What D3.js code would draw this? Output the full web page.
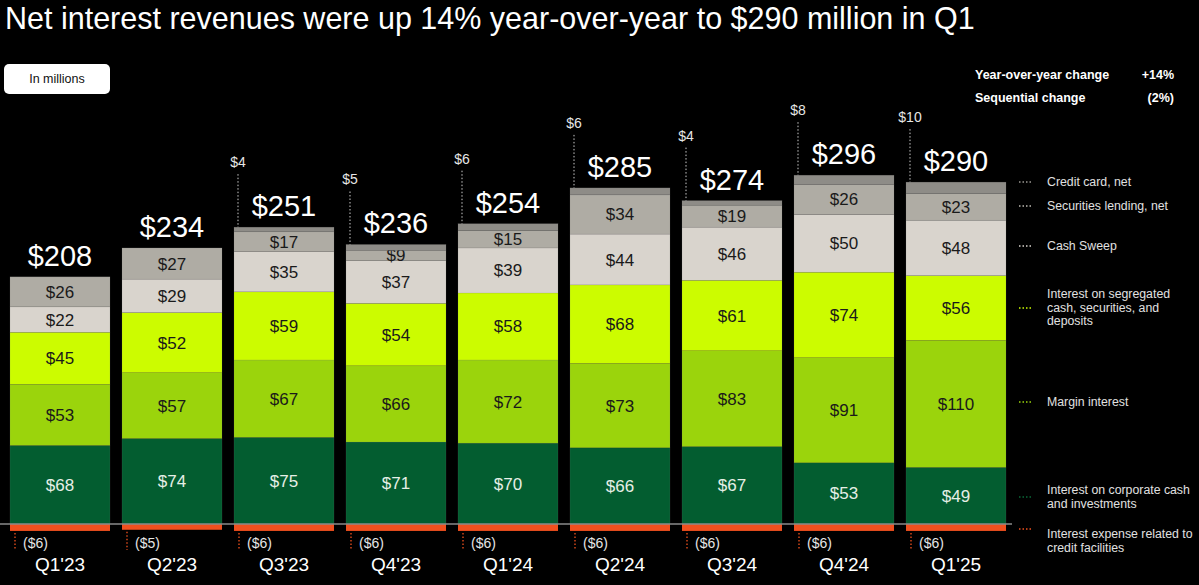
<!DOCTYPE html>
<html><head><meta charset="utf-8">
<script src="https://cdn.jsdelivr.net/npm/d3@7"></script>
<style>
html,body{margin:0;padding:0;background:#000;}
svg{display:block;font-family:"Liberation Sans",Arial,Helvetica,sans-serif;}
</style></head>
<body>
<svg id="c" width="1199" height="585"></svg>
<script>
const quarters = ["Q1'23","Q2'23","Q3'23","Q4'23","Q1'24","Q2'24","Q3'24","Q4'24","Q1'25"];
const corporateCash = [68,74,75,71,70,66,67,53,49];
const marginInterest = [53,57,67,66,72,73,83,91,110];
const segregated = [45,52,59,54,58,68,61,74,56];
const cashSweep = [22,29,35,37,39,44,46,50,48];
const securitiesLending = [26,27,17,9,15,34,19,26,23];
const creditCard = [0,0,4,5,6,6,4,8,10];
const interestExpense = [-6,-5,-6,-6,-6,-6,-6,-6,-6];
const totals = [208,234,251,236,254,285,274,296,290];
const summaryLabels = ["Year-over-year change","Sequential change"];
const summaryValues = ["+14%","(2%)"];
const title = "Net interest revenues were up 14% year-over-year to $290 million in Q1";

const stackSeries = [
  {key:"corp", vals:corporateCash, color:"#035d30", text:"#e6efe6", label:true},
  {key:"margin", vals:marginInterest, color:"#9bd40c", text:"#1a1a1a", label:true},
  {key:"seg", vals:segregated, color:"#ccfc00", text:"#1a1a1a", label:true},
  {key:"sweep", vals:cashSweep, color:"#d9d4cd", text:"#1a1a1a", label:true},
  {key:"sec", vals:securitiesLending, color:"#afaca4", text:"#1a1a1a", label:true},
  {key:"cc", vals:creditCard, color:"#8e8c87", text:"#1a1a1a", label:false}
];

const svg = d3.select("#c");
const x = d3.scaleBand().domain(quarters).range([10,1006]).paddingInner(12/112).paddingOuter(0);
const y = d3.scaleLinear().domain([0,300]).range([524, 524-300*1.155]);

// title
svg.append("text").attr("x",5).attr("y",29).attr("fill","#fff").attr("font-size",30.5).text(title);

// In millions box
svg.append("rect").attr("x",4).attr("y",64).attr("width",106).attr("height",30).attr("rx",5).attr("fill","#fff");
svg.append("text").attr("x",57).attr("y",83).attr("text-anchor","middle").attr("font-size",12.5).attr("fill","#111").text("In millions");

// summary table
summaryLabels.forEach((l,i)=>{
  svg.append("text").attr("x",975).attr("y",79+i*23).attr("fill","#fff").attr("font-weight","bold").attr("font-size",12.5).text(l);
  svg.append("text").attr("x",1174).attr("y",79+i*23).attr("text-anchor","end").attr("fill","#fff").attr("font-weight","bold").attr("font-size",12.5).text(summaryValues[i]);
});

// stacked bars
const g = svg.append("g");
quarters.forEach((q,i)=>{
  let base = 0;
  const bx = x(q), bw = x.bandwidth();
  stackSeries.forEach(s=>{
    const v = s.vals[i];
    if(v<=0) return;
    const y0 = y(base), y1 = y(base+v);
    g.append("rect").attr("x",bx).attr("y",y1).attr("width",bw).attr("height",y0-y1).attr("fill",s.color)
      .attr("stroke","rgba(120,120,120,0.3)").attr("stroke-width",0.5);
    if(s.label){
      g.append("text").attr("x",bx+bw/2).attr("y",(y0+y1)/2+6).attr("text-anchor","middle")
        .attr("font-size",17).attr("fill",s.text).text("$"+v);
    }
    base += v;
  });
  const top = y(base);
  g.append("text").attr("x",bx+bw/2).attr("y",top-11).attr("text-anchor","middle").attr("font-size",29).attr("fill","#fff").text("$"+totals[i]);
  if(creditCard[i]>0){
    const lx = bx+4;
    g.append("text").attr("x",lx).attr("y",top-60).attr("text-anchor","middle").attr("font-size",14).attr("fill","#e6e6e6").text("$"+creditCard[i]);
    g.append("line").attr("x1",lx).attr("x2",lx).attr("y1",top-53).attr("y2",top).attr("stroke","#ccc").attr("stroke-width",1).attr("stroke-dasharray","1.5,2");
  }
  const ny = y(interestExpense[i]);
  g.append("rect").attr("x",bx).attr("y",y(0)).attr("width",bw).attr("height",ny-y(0)).attr("fill","#f0501e");
  g.append("line").attr("x1",bx+5).attr("x2",bx+5).attr("y1",ny+2).attr("y2",550).attr("stroke","#f0501e").attr("stroke-width",1.3).attr("stroke-dasharray","1.5,2");
  g.append("text").attr("x",bx+13).attr("y",548).attr("font-size",14).attr("fill","#e6e6e6").text("($"+(-interestExpense[i])+")");
  g.append("text").attr("x",bx+bw/2).attr("y",571).attr("text-anchor","middle").attr("font-size",19).attr("fill","#fff").text(q);
});
svg.append("line").attr("x1",0).attr("x2",1012).attr("y1",y(0)).attr("y2",y(0)).attr("stroke","#8a8a8a").attr("stroke-width",1.5);

// legend
const legend = [
  {lines:["Credit card, net"], y:182, color:"#9a9893", dot:0},
  {lines:["Securities lending, net"], y:206, color:"#bdbab3", dot:0},
  {lines:["Cash Sweep"], y:246, color:"#d9d4cd", dot:0},
  {lines:["Interest on segregated","cash, securities, and","deposits"], y:294, color:"#ccfc00", dot:14},
  {lines:["Margin interest"], y:402, color:"#9bd40c", dot:0},
  {lines:["Interest on corporate cash","and investments"], y:490, color:"#0a6a38", dot:7},
  {lines:["Interest expense related to","credit facilities"], y:534, color:"#f0501e", dot:-5}
];
legend.forEach(l=>{
  const dy = l.y + l.dot;
  svg.append("line").attr("x1",1019).attr("x2",1032).attr("y1",dy).attr("y2",dy).attr("stroke",l.color).attr("stroke-width",1.3).attr("stroke-dasharray","1.5,2");
  l.lines.forEach((t,j)=>{
    svg.append("text").attr("x",1047).attr("y",l.y+4+j*13.5).attr("font-size",12.3).attr("fill","#e0e0e0").text(t);
  });
});
</script>
</body></html>
